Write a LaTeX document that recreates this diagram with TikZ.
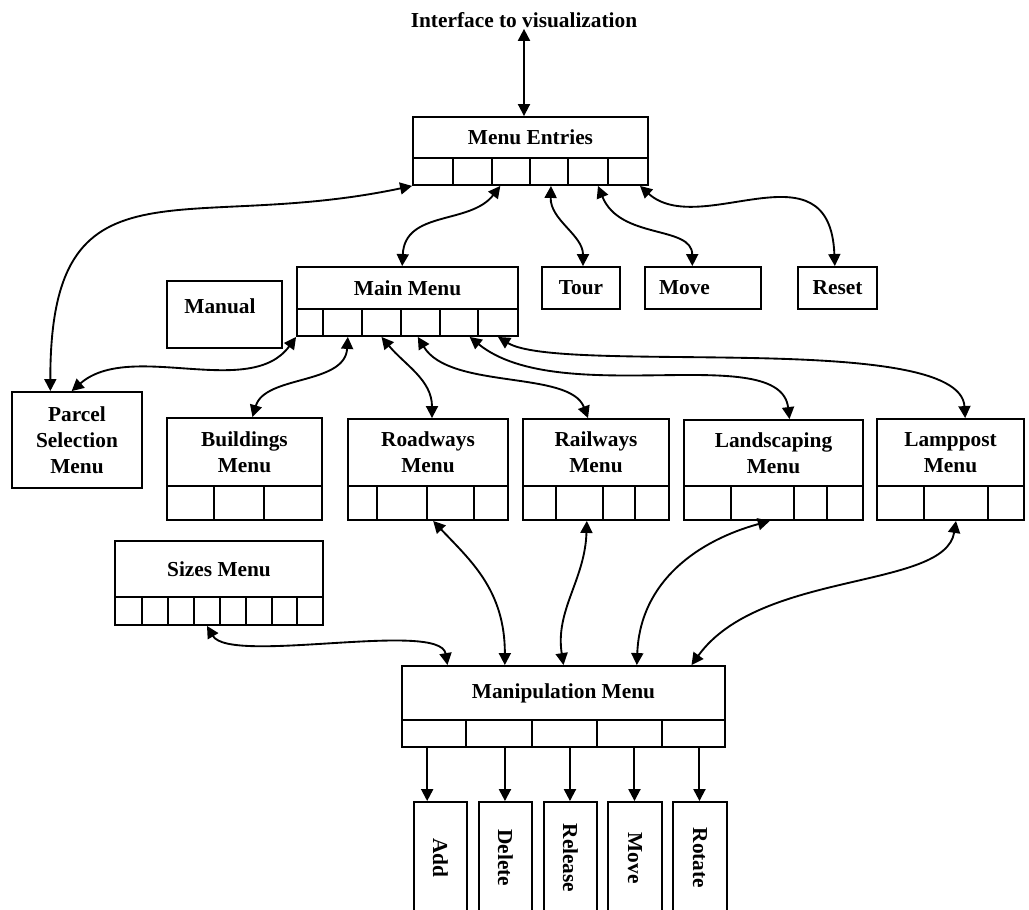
\documentclass[tikz,border=0pt]{standalone}
\usepackage{fontspec}
\setmainfont{Liberation Serif}
\usetikzlibrary{arrows.meta}

% label font used throughout
\newcommand\dfont{\fontsize{16}{19.5}\selectfont\bfseries}

% a plain box given by its corners (pixel units)
\newcommand\blockbox[6]{%
  \node[box, minimum width={(#4-#2)*0.75pt}, minimum height={(#5-#3)*0.75pt}]
    (#1) at ({(#2+#4)/2},{(#3+#5)/2}) {#6};}

% a row of cells below a menu header: name, y top, y bottom, list of x-left/x-right
\newcommand\cellrow[4]{%
  \foreach \xa/\xb [count=\i] in {#4} {%
    \node[cell, minimum width={(\xb-\xa)*0.75pt}, minimum height={(#3-#2)*0.75pt}]
      (#1-\i) at ({(\xa+\xb)/2},{(#2+#3)/2}) {};}}

\begin{document}
\begin{tikzpicture}[x=0.75pt, y=-0.75pt,
  box/.style={draw, line width=1.4pt, inner sep=0pt, align=center, font=\dfont},
  cell/.style={draw, line width=1.4pt, inner sep=0pt},
  >={Triangle[length=9pt,width=9pt]},
  link/.style={line width=1.4pt, <->},
  feed/.style={line width=1.5pt, ->}]

\useasboundingbox (0,0) rectangle (1029,910);

% ---- top level ----
\node[font=\dfont, inner sep=1pt, anchor=base] (title) at (524,27) {Interface to visualization};

\blockbox{me}{413}{117}{648}{158}{Menu Entries}
\cellrow{me}{158}{185}{413/453,453/492,492/530,530/568,568/608,608/648}

% ---- second level ----
\blockbox{mm}{297}{267}{518}{309}{Main Menu}
\cellrow{mm}{309}{336}{297/323,323/362,362/401,401/440,440/478,478/518}

\blockbox{manual}{167}{281}{282}{348}{}
\node[font=\dfont] (manual-t) at (220,306) {Manual};

\blockbox{tour}{542}{267}{620}{309}{Tour}
\node[box, text width={88*0.75pt}, inner xsep={14*0.75pt}, align=left,
      minimum height={42*0.75pt}] (move) at (703,288) {Move};
\blockbox{reset}{798}{267}{877}{309}{Reset}

% ---- feature menus ----
\blockbox{parcel}{12}{392}{142}{488}{Parcel\\Selection\\Menu}

\blockbox{buildings}{167}{418}{322}{486}{Buildings\\Menu}
\cellrow{buildings}{486}{520}{167/214,214/264,264/322}

\blockbox{roadways}{348}{419}{508}{486}{Roadways\\Menu}
\cellrow{roadways}{486}{520}{348/377,377/427,427/474,474/508}

\blockbox{railways}{523}{419}{669}{486}{Railways\\Menu}
\cellrow{railways}{486}{520}{523/556,556/603,603/635,635/669}

\blockbox{landscaping}{684}{420}{863}{486}{Landscaping\\Menu}
\cellrow{landscaping}{486}{520}{684/731,731/794,794/827,827/863}

\blockbox{lamppost}{877}{419}{1024}{486}{Lamppost\\Menu}
\cellrow{lamppost}{486}{520}{877/924,924/988,988/1024}

\blockbox{sizes}{115}{541}{323}{597}{Sizes Menu}
\cellrow{sizes}{597}{625}{115/142,142/168,168/194,194/220,220/246,246/272,272/297,297/323}

% ---- manipulation ----
\blockbox{manip}{402}{666}{725}{720}{Manipulation Menu}
\cellrow{manip}{720}{747}{402/466,466/532,532/597,597/662,662/725}

\begin{scope}
\clip (0,0) rectangle (1029,910);
\foreach \nm/\xl/\xr/\txt in {add/414/467/Add, delete/479/532/Delete,
    release/544/597/Release, movetool/608/662/Move, rotate/673/727/Rotate}
  \node[box, rotate=-90, minimum width={112*0.75pt}, minimum height={(\xr-\xl)*0.75pt}]
    (\nm) at ({(\xl+\xr)/2},858) {\txt};
\end{scope}

% ---- connectors ----
\draw[link] (title.south) -- (title.south |- me.north);

\draw[link] (me-1.south west) .. controls (180,235) and (50,150) .. ([xshift=-20pt]parcel.north);
\draw[link] ([xshift=-8pt]me-3.south) .. controls (470,225) and (405,210) .. ([xshift=-4pt]mm.north);
\draw[link] ([xshift=1.5pt]me-4.south) .. controls (550,220) and (583,235) .. ([xshift=1.5pt]tour.north);
\draw[link] ([xshift=7.5pt]me-5.south) .. controls (620,240) and (692,225) .. ([xshift=-8pt]move.north);
\draw[link] ([xshift=9pt]me-6.south) .. controls (700,240) and (830,140) .. ([xshift=-2pt]reset.north);

\draw[link] (mm-1.south west) .. controls (250,400) and (130,340) .. ([xshift=-4pt]parcel.north);
\draw[link] ([xshift=4pt]mm-2.south) .. controls (345,385) and (265,375) .. ([xshift=6pt]buildings.north);
\draw[link] (mm-3.south) .. controls (405,365) and (432,380) .. ([xshift=3pt]roadways.north);
\draw[link] ([xshift=-2pt]mm-4.south) .. controls (450,390) and (570,370) .. ([xshift=-6pt]railways.north);
\draw[link] ([xshift=8pt]mm-5.south) .. controls (560,410) and (780,340) .. ([xshift=12pt]landscaping.north);
\draw[link] (mm-6.south) .. controls (560,375) and (960,330) .. ([xshift=11pt]lamppost.north);

\draw[link] ([xshift=-13pt]roadways-3.south) .. controls (470,560) and (505,590) .. ([xshift=-44pt]manip.north);
\draw[link] ([xshift=5.5pt]railways-2.south) .. controls (585,580) and (555,610) .. (manip.north);
\draw[link] ([xshift=5.5pt]landscaping-2.south) .. controls (700,540) and (640,580) .. ([xshift=55pt]manip.north);
\draw[link] (lamppost-2.south) .. controls (945,590) and (760,570) .. ([xshift=96pt]manip.north);
\draw[link] (sizes-4.south) .. controls (230,665) and (440,620) .. ([xshift=-87pt]manip.north);

% tool entry points on the tops of the tool boxes
\coordinate (add-in) at ([xshift=-10pt]add.west);
\coordinate (delete-in) at ([xshift=-0.4pt]delete.west);
\coordinate (release-in) at ([xshift=-0.4pt]release.west);
\coordinate (movetool-in) at ([xshift=-0.4pt]movetool.west);
\coordinate (rotate-in) at ([xshift=-0.4pt]rotate.west);
\draw[feed] (add-in |- manip-1.south) -- (add-in);
\draw[feed] (delete-in |- manip-2.south) -- (delete-in);
\draw[feed] (release-in |- manip-3.south) -- (release-in);
\draw[feed] (movetool-in |- manip-4.south) -- (movetool-in);
\draw[feed] (rotate-in |- manip-5.south) -- (rotate-in);
\end{tikzpicture}
\end{document}
